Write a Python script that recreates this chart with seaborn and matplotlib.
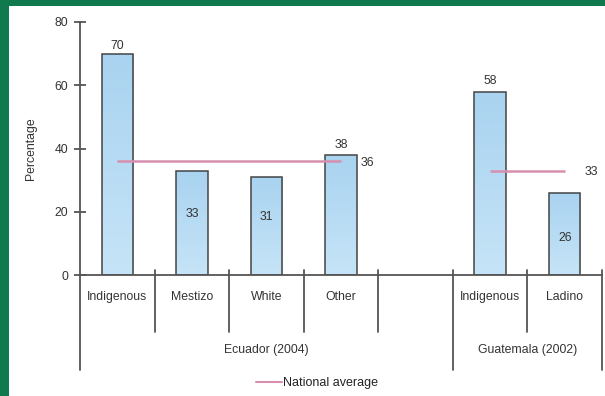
import numpy as np
import pandas as pd
import matplotlib
matplotlib.use("Agg")
import matplotlib.pyplot as plt
from matplotlib.lines import Line2D
from matplotlib.patches import Rectangle
import seaborn as sns

# ---- data -------------------------------------------------------------
slot_keys = ["EC_ind", "EC_mes", "EC_whi", "EC_oth", "gap", "GT_ind", "GT_lad"]
slot_labels = ["Indigenous", "Mestizo", "White", "Other", "", "Indigenous", "Ladino"]
bar_keys = ["EC_ind", "EC_mes", "EC_whi", "EC_oth", "GT_ind", "GT_lad"]
bar_values = [70, 33, 31, 38, 58, 26]
groups = ["Ecuador (2004)", "Guatemala (2002)"]
national_avg = [36, 33]
yticks = [0, 20, 40, 60, 80]

# label placement: True = above the bar, False = inside the bar
label_above = [True, False, False, True, True, False]
inside_frac = [0.0, 0.58, 0.59, 0.0, 0.0, 0.45]
avg_span = [(0, 3), (5, 6)]          # slot range each average line covers
group_span = [(-0.5, 4.5), (4.5, 6.5)]

NARROW = ["Liberation Sans Narrow", "Liberation Sans", "DejaVu Sans"]
REGULAR = ["Liberation Sans", "DejaVu Sans"]
TXT = "#333333"
AXC = "#555555"
PINK = "#d68fae"
FS = 8.8

sns.set_theme(style="white")
plt.rcParams["font.family"] = NARROW

fig = plt.figure(figsize=(6.05, 3.96), dpi=100, facecolor="#107a4e")
fig.patches.append(Rectangle((9 / 605, 0), 1, 1 - 6 / 396, transform=fig.transFigure,
                             facecolor="white", edgecolor="none", zorder=-10))

ax = fig.add_axes([80 / 605, 121 / 396, 522 / 605, 253 / 396])
ax.set_facecolor("none")

df = pd.DataFrame({"slot": bar_keys, "value": bar_values})
sns.barplot(data=df, x="slot", y="value", order=slot_keys, width=0.42,
            color="#b5dbf3", edgecolor="#444444", linewidth=1.1, ax=ax)

# vertical gradient inside each bar
grad = np.linspace(0, 1, 256).reshape(-1, 1)
cmap = matplotlib.colors.LinearSegmentedColormap.from_list("bluegrad", ["#c6e4f7", "#a9d3f0"])
for p in list(ax.patches):
    x0, w, h = p.get_x(), p.get_width(), p.get_height()
    if h <= 0:
        continue
    im = ax.imshow(grad, extent=[x0, x0 + w, 0, h], origin="lower", aspect="auto",
                   cmap=cmap, zorder=1)
    im.set_clip_path(p)
    p.set_facecolor("none")
    p.set_zorder(2)

ax.set_xlim(-0.5, 6.5)
ax.set_ylim(0, 80)

# value labels
xpos = [slot_keys.index(k) for k in bar_keys]
for x, v, above, frac in zip(xpos, bar_values, label_above, inside_frac):
    if above:
        ax.annotate(str(v), (x, v), xytext=(0, 1 if v == 70 else 3), textcoords="offset points",
                    ha="center", va="bottom", fontsize=FS, color=TXT)
    else:
        ax.text(x, v * frac, str(v), ha="center", va="center", fontsize=FS, color=TXT)

# national average lines
for (a, b), v in zip(avg_span, national_avg):
    ax.plot([a, b], [v, v], color=PINK, lw=1.8, zorder=3, solid_capstyle="butt")
    ax.annotate(str(v), (b, v), xytext=(14, -1), textcoords="offset points",
                ha="left", va="center", fontsize=FS, color=TXT)

# axes styling
sns.despine(ax=ax, top=True, right=True)
for side in ("left", "bottom"):
    ax.spines[side].set_color(AXC)
    ax.spines[side].set_linewidth(1.3)
ax.set_yticks(yticks)
ax.tick_params(axis="y", left=True, direction="inout", length=9, width=1.3, color=AXC,
               labelsize=FS, labelcolor=TXT, pad=4)
ax.tick_params(axis="x", length=0, labelbottom=False)
ax.set_xlabel("")
ax.set_ylabel("Percentage", fontsize=FS, color=TXT, labelpad=13)

# category axis: slot labels, separators and group labels
trans = ax.get_xaxis_transform()
px = 1 / 253  # one pixel in axes-height units
for i, lab in enumerate(slot_labels):
    if lab:
        ax.text(i, -22 * px, lab, transform=trans, ha="center", va="center",
                fontsize=FS, color=TXT)
for xb in [0.5, 1.5, 2.5, 3.5, 5.5]:
    ax.add_line(Line2D([xb, xb], [5 * px, -57 * px], transform=trans, color=AXC,
                       lw=1.3, clip_on=False))
for xb in [-0.5, 4.5, 6.5]:
    top = 0 if xb == -0.5 else 5 * px
    ax.add_line(Line2D([xb, xb], [top, -95 * px], transform=trans, color=AXC,
                       lw=1.3, clip_on=False))
for g, (a, b) in zip(groups, group_span):
    ax.text((a + b) / 2, -75 * px, g, transform=trans, ha="center", va="center",
            fontsize=FS, color=TXT)

# legend
handle = Line2D([], [], color=PINK, lw=1.5)
fig.legend([handle], ["National average"], loc="center",
           bbox_to_anchor=(317 / 605, 1 - 383 / 396), frameon=False,
           handlelength=2.1, handletextpad=0.1,
           prop={"family": REGULAR, "size": 9}, labelcolor="#222222")

fig.savefig("out.png", dpi=100, facecolor=fig.get_facecolor())
